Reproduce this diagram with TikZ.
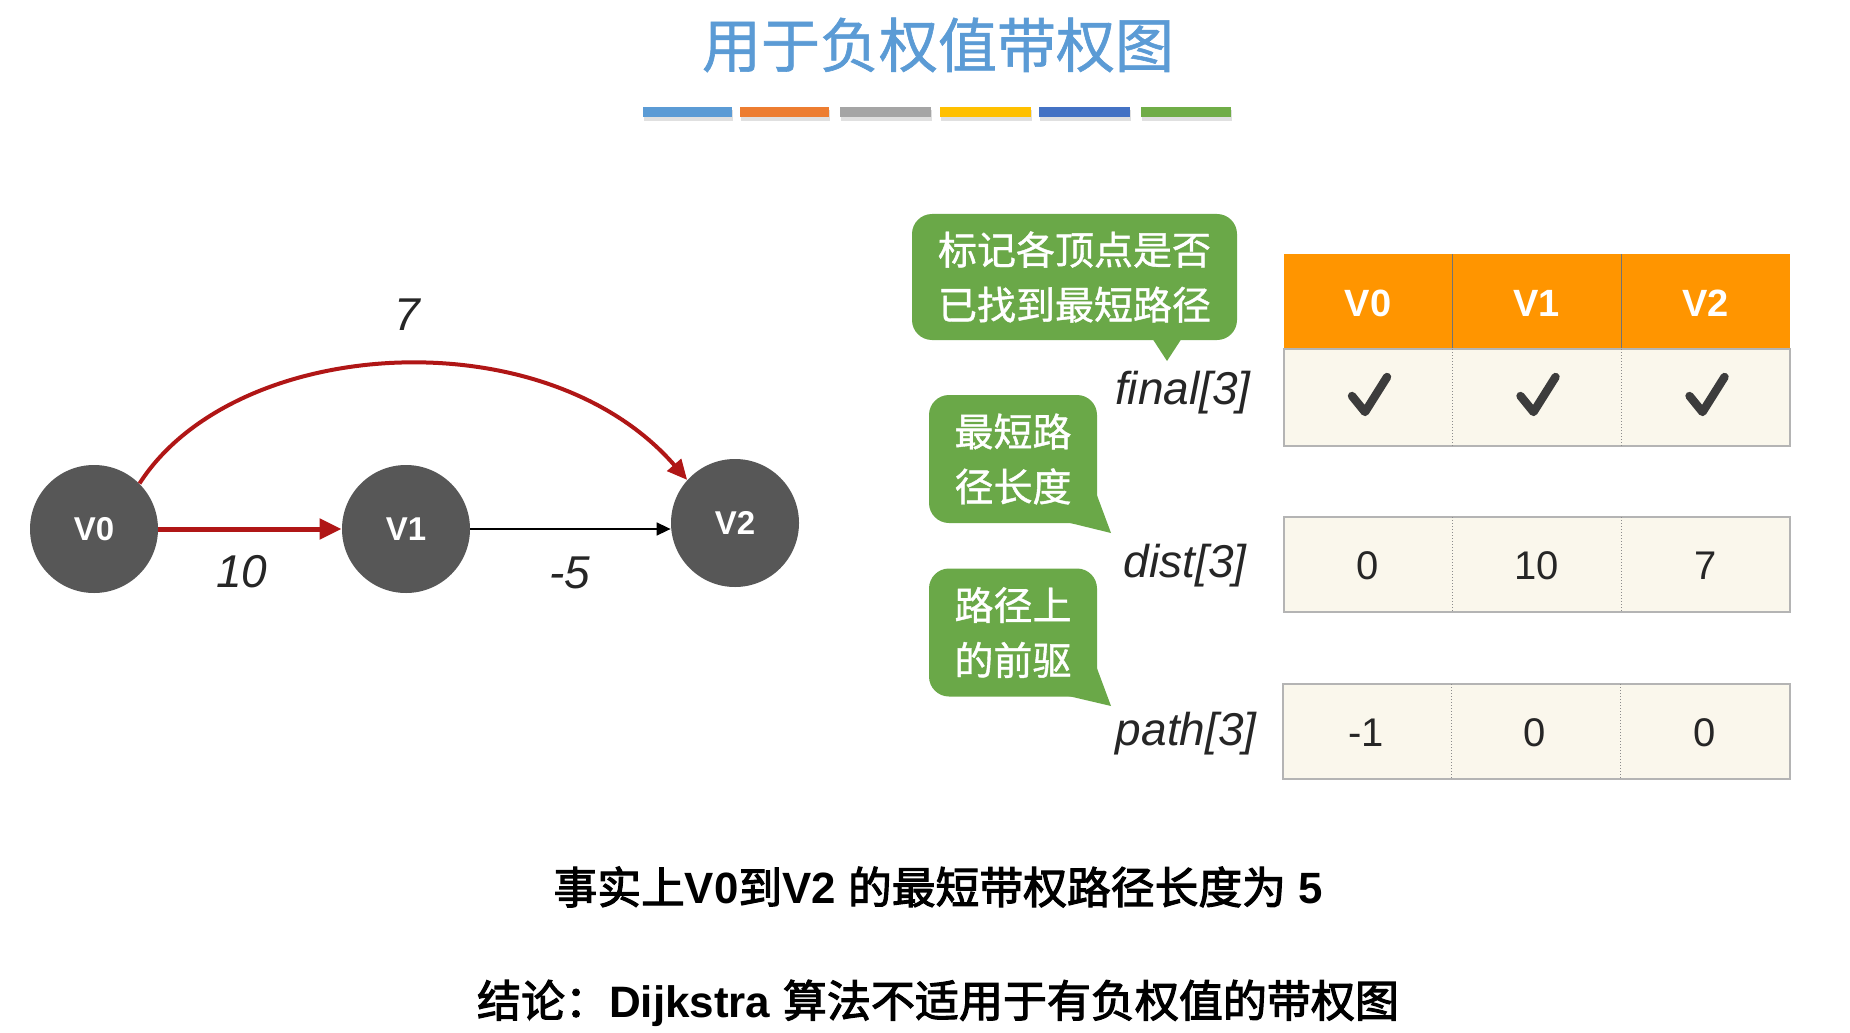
\documentclass[tikz,border=0pt]{standalone}
\usepackage{fontspec}
\setmainfont{Liberation Sans}
\newfontfamily\cjk{Noto Sans CJK SC}
\newfontfamily\cjkm{Noto Sans CJK SC}[FakeBold=1]
\newfontfamily\cjkb{Noto Sans CJK SC}[FakeBold=2.5]
\usetikzlibrary{arrows.meta}
\definecolor{titleblue}{HTML}{5B9BD5}
\definecolor{barA}{HTML}{5B9BD5}
\definecolor{barB}{HTML}{ED7D31}
\definecolor{barC}{HTML}{A5A5A5}
\definecolor{barD}{HTML}{FFC000}
\definecolor{barE}{HTML}{4472C4}
\definecolor{barF}{HTML}{70AD47}
\definecolor{nodegray}{HTML}{575757}
\definecolor{edgered}{HTML}{B01616}
\definecolor{callgreen}{HTML}{6AA848}
\definecolor{headorange}{HTML}{FF9500}
\definecolor{cellcream}{HTML}{FAF7EC}
\definecolor{cellborder}{HTML}{B4B4B4}
\definecolor{checkgray}{HTML}{3C3C3C}
\tikzset{
  vert/.style={circle, fill=nodegray, minimum size=64pt, inner sep=0pt, text=white,
    font=\bfseries\fontsize{16.5}{18}\selectfont},
  elabel/.style={font=\itshape\fontsize{23}{26}\selectfont, text=black!85, inner sep=0pt},
  redarrow/.style={draw=edgered, line width=2.5pt, -{Triangle[length=11pt,width=10pt]}},
  redarc/.style={draw=edgered, line width=2pt, -{Triangle[length=10pt,width=9pt]}},
  blackarrow/.style={draw=black, line width=0.8pt, -{Triangle[length=7pt,width=6.5pt]}},
  callbox/.style={fill=callgreen, rounded corners=10pt, text=white, align=center,
    font=\cjkm\fontsize{19.5}{27.5}\selectfont, inner sep=0pt},
  arrlabel/.style={font=\itshape\fontsize{23}{26}\selectfont, text=black!85, anchor=east, inner sep=0pt},
  headtext/.style={text=white, font=\bfseries\fontsize{19}{21}\selectfont, inner sep=0pt},
  celltext/.style={text=black!85, font=\fontsize{20}{22}\selectfont, inner sep=0pt},
  checkmark/.style={draw=checkgray, line width=4.2pt, line cap=round, line join=round},
  celloutline/.style={fill=cellcream, draw=cellborder, line width=0.8pt},
  celldiv/.style={draw=black!45, line width=0.5pt, densely dotted},
  bottomtext/.style={text=black, inner sep=0pt}
}
\begin{document}
\begin{tikzpicture}[x=0.5pt,y=-0.5pt]
\path[fill=white,use as bounding box] (0,0) rectangle (1850,1032);

% title
\node[text=titleblue, inner sep=0pt] (title) at (938,45)
  {\cjkm\fontsize{29.5}{32}\selectfont 用于负权值带权图};

% colour bars
\foreach \xa/\xb/\c in {643/732/barA, 740/829/barB, 840/931/barC, 940/1031/barD, 1039/1130/barE, 1141/1231/barF}{
  \fill[black!12] (\xa+1,110) rectangle (\xb+1,121);
  \fill[\c] (\xa,107) rectangle (\xb,117);
}

% graph
\node[vert] (v0) at (94,529) {V0};
\node[vert] (v1) at (406,529) {V1};
\node[vert] (v2) at (735,523) {V2};

\draw[redarrow] (v0.east) -- (v1.west);
\draw[blackarrow] (v1.east) -- (v2.west |- v1.east);
\draw[redarc] (v0.45) .. controls (235,335) and (545,316) .. (v2.138);

\node[elabel] (w10) at (242,572) {10};
\node[elabel] (w5) at (570,573) {-5};
\node[elabel] (w7) at (407,315) {7};

% callouts
\node[callbox, minimum width=162.5pt, minimum height=63pt] (c1) at (1074.5,277)
  {标记各顶点是否\\已找到最短路径};
\fill[callgreen] (1152,338) -- (1167,361) -- (1182,338) -- cycle;

\node[callbox, minimum width=84pt, minimum height=64pt] (c2) at (1013,459)
  {最短路\\径长度};
\fill[callgreen] (1062,521) -- (1111,533) -- (1095,490) -- cycle;

\node[callbox, minimum width=84pt, minimum height=64pt] (c3) at (1013,632.5)
  {路径上\\的前驱};
\fill[callgreen] (1062,694.5) -- (1111,706) -- (1095,663) -- cycle;

% array labels
\node[arrlabel] (lfinal) at (1251,393) {final[3]};
\node[arrlabel] (ldist) at (1247,566) {dist[3]};
\node[arrlabel] (lpath) at (1257,734) {path[3]};

% table header
\fill[headorange] (1284,254) rectangle (1790,349);
\draw[black!55, line width=0.5pt] (1452,254) -- (1452,349) (1621,254) -- (1621,349);
\node[headtext] (h0) at (1368,303) {V0};
\node[headtext] (h1) at (1536.5,303) {V1};
\node[headtext] (h2) at (1705.5,303) {V2};

% final row
\draw[celloutline] (1284,349) rectangle (1790,446);
\draw[celldiv] (1452,349) -- (1452,446) (1621,349) -- (1621,446);
\foreach \cx/\nm in {1368/k0, 1536.5/k1, 1705.5/k2}{
  \coordinate (\nm) at (\cx,397);
  \draw[checkmark] ([shift={(-16,-1)}]\nm) -- ([shift={(-3,15)}]\nm) -- ([shift={(19,-20)}]\nm);
}

% dist row
\draw[celloutline] (1284,517) rectangle (1790,612);
\draw[celldiv] (1452,517) -- (1452,612) (1621,517) -- (1621,612);
\node[celltext] (d0) at (1368,566) {0};
\node[celltext] (d1) at (1536.5,566) {10};
\node[celltext] (d2) at (1705.5,566) {7};

% path row
\draw[celloutline] (1283,684) rectangle (1790,779);
\draw[celldiv] (1451,684) -- (1451,779) (1620,684) -- (1620,779);
\node[celltext] (p0) at (1366,733) {-1};
\node[celltext] (p1) at (1535,733) {0};
\node[celltext] (p2) at (1705,733) {0};

% bottom text
\node[bottomtext] (fact) at (938,887)
  {\fontsize{21.9}{24}\selectfont{\cjkb 事实上}\textbf{V0}{\cjkb 到}\textbf{V2} {\cjkb 的最短带权路径长度为} \textbf{5}};
\node[bottomtext] (concl) at (938,1003)
  {\fontsize{22}{24}\selectfont{\cjkb 结论：}\textbf{Dijkstra} {\cjkb 算法不适用于有负权值的带权图}};
\end{tikzpicture}
\end{document}
